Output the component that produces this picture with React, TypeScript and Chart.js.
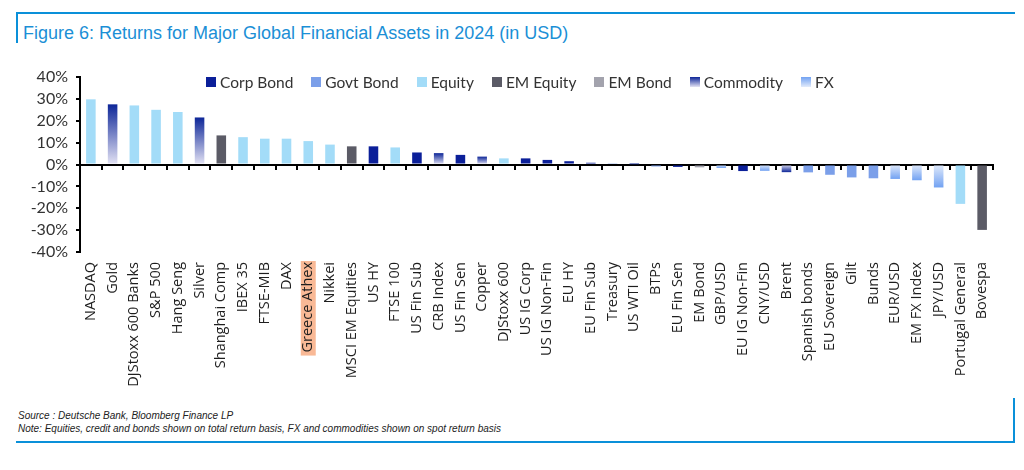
import React, { useEffect, useRef } from "react";
import { Chart, registerables } from "chart.js";

Chart.register(...registerables);

// ---------- DATA ----------
const categories: string[] = [
  "NASDAQ", "Gold", "DJStoxx 600 Banks", "S&P 500", "Hang Seng", "Silver",
  "Shanghai Comp", "IBEX 35", "FTSE-MIB", "DAX", "Greece Athex", "Nikkei",
  "MSCI EM Equities", "US HY", "FTSE 100", "US Fin Sub", "CRB Index", "US Fin Sen",
  "Copper", "DJStoxx 600", "US IG Corp", "US IG Non-Fin", "EU HY", "EU Fin Sub",
  "Treasury", "US WTI Oil", "BTPs", "EU Fin Sen", "EM Bond", "GBP/USD",
  "EU IG Non-Fin", "CNY/USD", "Brent", "Spanish bonds", "EU Sovereign", "Gilt",
  "Bunds", "EUR/USD", "EM FX Index", "JPY/USD", "Portugal General", "Bovespa",
];

const returnsPct: number[] = [
  29.8, 27.5, 27.0, 25.0, 24.0, 21.5,
  13.3, 12.5, 11.8, 11.8, 10.7, 9.1,
  8.3, 8.3, 7.8, 5.5, 5.2, 4.4,
  3.6, 2.8, 2.8, 2.1, 1.5, 0.8,
  0.6, 0.1, -0.9, -1.1, -1.3, -1.6,
  -3.0, -2.9, -3.5, -3.6, -4.7, -5.9,
  -6.3, -6.6, -7.2, -10.5, -18.0, -29.9,
];

const assetClass: string[] = [
  "Equity", "Commodity", "Equity", "Equity", "Equity", "Commodity",
  "EM Equity", "Equity", "Equity", "Equity", "Equity", "Equity",
  "EM Equity", "Corp Bond", "Equity", "Corp Bond", "Commodity", "Corp Bond",
  "Commodity", "Equity", "Corp Bond", "Corp Bond", "Corp Bond", "Corp Bond",
  "Govt Bond", "Commodity", "Govt Bond", "Corp Bond", "EM Bond", "FX",
  "Corp Bond", "FX", "Commodity", "Govt Bond", "Govt Bond", "Govt Bond",
  "Govt Bond", "FX", "FX", "FX", "Equity", "EM Equity",
];

const seriesNames: string[] = ["Corp Bond", "Govt Bond", "Equity", "EM Equity", "EM Bond", "Commodity", "FX"];

const yTickValues: number[] = [-40, -30, -20, -10, 0, 10, 20, 30, 40];

const highlightedLabel = "Greece Athex";

const titleText = "Figure 6: Returns for Major Global Financial Assets in 2024 (in USD)";
const sourceText = "Source : Deutsche Bank, Bloomberg Finance LP";
const noteText = "Note: Equities, credit and bonds shown on total return basis, FX and commodities shown on spot return basis";

// ---------- STYLES ----------
type Sty = { solid?: string; tip?: string; base?: string };
const STYLE: Record<string, Sty> = {
  "Corp Bond": { solid: "#0b1f99" },
  "Govt Bond": { solid: "#7b9fe9" },
  "Equity": { solid: "#a3dcf8" },
  "EM Equity": { solid: "#5b5b66" },
  "EM Bond": { solid: "#a3a3ad" },
  "Commodity": { tip: "#0d2698", base: "#e4e3f4" },
  "FX": { tip: "#72a2f2", base: "#e2ebfb" },
};

const BLUE = "#0a90d9";
const X_FONT_SIZE = 14.5;

function legendSwatch(name: string): string {
  const s = STYLE[name];
  if (s.solid) return s.solid;
  return `linear-gradient(to bottom, ${s.tip}, ${s.base})`;
}

export default function App() {
  const canvasRef = useRef<HTMLCanvasElement | null>(null);

  useEffect(() => {
    const canvas = canvasRef.current;
    if (!canvas) return;

    const highlightPlugin = {
      id: "labelHighlight",
      beforeDraw(chart: any) {
        const xs = chart.scales.x;
        const idx = categories.indexOf(highlightedLabel);
        if (!xs || idx < 0) return;
        const c = chart.ctx;
        c.save();
        c.font = `${X_FONT_SIZE}px "Open Sans"`;
        const w = c.measureText(highlightedLabel).width;
        const cx = xs.getPixelForValue(idx);
        const top = chart.chartArea.bottom + 9;
        c.fillStyle = "#f9b996";
        c.fillRect(cx - 7.5, top, 15, w + 4);
        c.restore();
      },
    };

    const chart = new Chart(canvas, {
      type: "bar",
      data: {
        labels: categories,
        datasets: [
          {
            label: "Returns",
            data: returnsPct,
            barPercentage: 0.44,
            categoryPercentage: 1,
            backgroundColor: (ctx: any) => {
              const cls = assetClass[ctx.dataIndex];
              const st = STYLE[cls];
              if (!st) return "#999";
              if (st.solid) return st.solid;
              const ch = ctx.chart;
              const ys = ch.scales && ch.scales.y;
              if (!ch.chartArea || !ys) return st.tip;
              const v = returnsPct[ctx.dataIndex];
              const p0 = ys.getPixelForValue(0);
              const p1 = ys.getPixelForValue(v);
              if (Math.abs(p1 - p0) < 1) return st.tip;
              const g = ch.ctx.createLinearGradient(0, p0, 0, p1);
              g.addColorStop(0, st.base as string);
              g.addColorStop(1, st.tip as string);
              return g;
            },
          },
        ],
      },
      options: {
        animation: false,
        responsive: false,
        maintainAspectRatio: false,
        layout: { padding: { top: 77, left: 8, right: 31, bottom: 0 } },
        plugins: {
          legend: { display: false },
          tooltip: { enabled: false },
          title: { display: false },
        },
        scales: {
          x: {
            type: "category",
            position: "bottom",
            offset: true,
            grid: { display: false, drawTicks: false },
            border: { display: false },
            ticks: {
              autoSkip: false,
              maxRotation: 90,
              minRotation: 90,
              padding: 10,
              color: "#1e1e1e",
              font: { family: '"Open Sans"', size: X_FONT_SIZE },
            },
            afterFit: (s: any) => {
              s.height = 148;
            },
          },
          xZero: {
            type: "category",
            position: { y: 0 },
            offset: true,
            grid: {
              offset: true,
              drawOnChartArea: false,
              drawTicks: true,
              tickLength: 4,
              color: "#000",
              lineWidth: 2,
            },
            border: { display: true, color: "#000", width: 2 },
            ticks: { display: false },
          },
          y: {
            type: "linear",
            min: -40,
            max: 40,
            afterBuildTicks: (s: any) => {
              s.ticks = yTickValues.map((v) => ({ value: v }));
            },
            ticks: {
              autoSkip: false,
              stepSize: 10,
              callback: (v: any) => `${v}%`,
              color: "#333",
              padding: 8,
              font: { family: "Lato", size: 16 },
            },
            grid: {
              drawOnChartArea: false,
              drawTicks: true,
              tickLength: 4,
              color: "#000",
              lineWidth: 2,
            },
            border: { display: true, color: "#000", width: 2 },
            afterFit: (s: any) => {
              s.width = 72;
            },
          },
        },
      } as any,
      plugins: [highlightPlugin],
    });

    return () => {
      chart.destroy();
    };
  }, []);

  const abs = (o: React.CSSProperties): React.CSSProperties => ({ position: "absolute", ...o });

  return (
    <div style={abs({ left: 0, top: 0, width: 1024, height: 470, background: "#fff", overflow: "hidden" })}>
      {/* frame */}
      <div style={abs({ left: 16, top: 12, width: 999, height: 2, background: BLUE })} />
      <div style={abs({ left: 16, top: 12, width: 2, height: 31, background: BLUE })} />
      <div style={abs({ left: 16, top: 441, width: 999, height: 2, background: BLUE })} />
      <div style={abs({ left: 1013, top: 398, width: 2, height: 45, background: BLUE })} />

      <div
        style={abs({
          left: 23,
          top: 22,
          fontFamily: '"Liberation Sans", Arial, sans-serif',
          fontSize: 18,
          lineHeight: "22px",
          color: "#1b8fd6",
          whiteSpace: "nowrap",
        })}
      >
        {titleText}
      </div>

      <canvas ref={canvasRef} width={1024} height={400} style={abs({ left: 0, top: 0, width: 1024, height: 400 })} />

      {/* legend */}
      <div
        style={abs({
          left: 206,
          top: 72,
          display: "flex",
          alignItems: "center",
          gap: 18,
          fontFamily: "Lato, sans-serif",
          fontSize: 15.5,
          color: "#333",
          whiteSpace: "nowrap",
          lineHeight: "20px",
        })}
      >
        {seriesNames.map((n) => (
          <div key={n} style={{ display: "flex", alignItems: "center" }}>
            <span style={{ display: "inline-block", width: 10, height: 10, background: legendSwatch(n), marginRight: 4 }} />
            <span>{n}</span>
          </div>
        ))}
      </div>

      <div
        style={abs({
          left: 18,
          top: 409,
          fontFamily: '"Liberation Sans", Arial, sans-serif',
          fontStyle: "italic",
          fontSize: 10,
          lineHeight: "13px",
          color: "#222",
          whiteSpace: "nowrap",
        })}
      >
        <div>{sourceText}</div>
        <div>{noteText}</div>
      </div>
    </div>
  );
}
